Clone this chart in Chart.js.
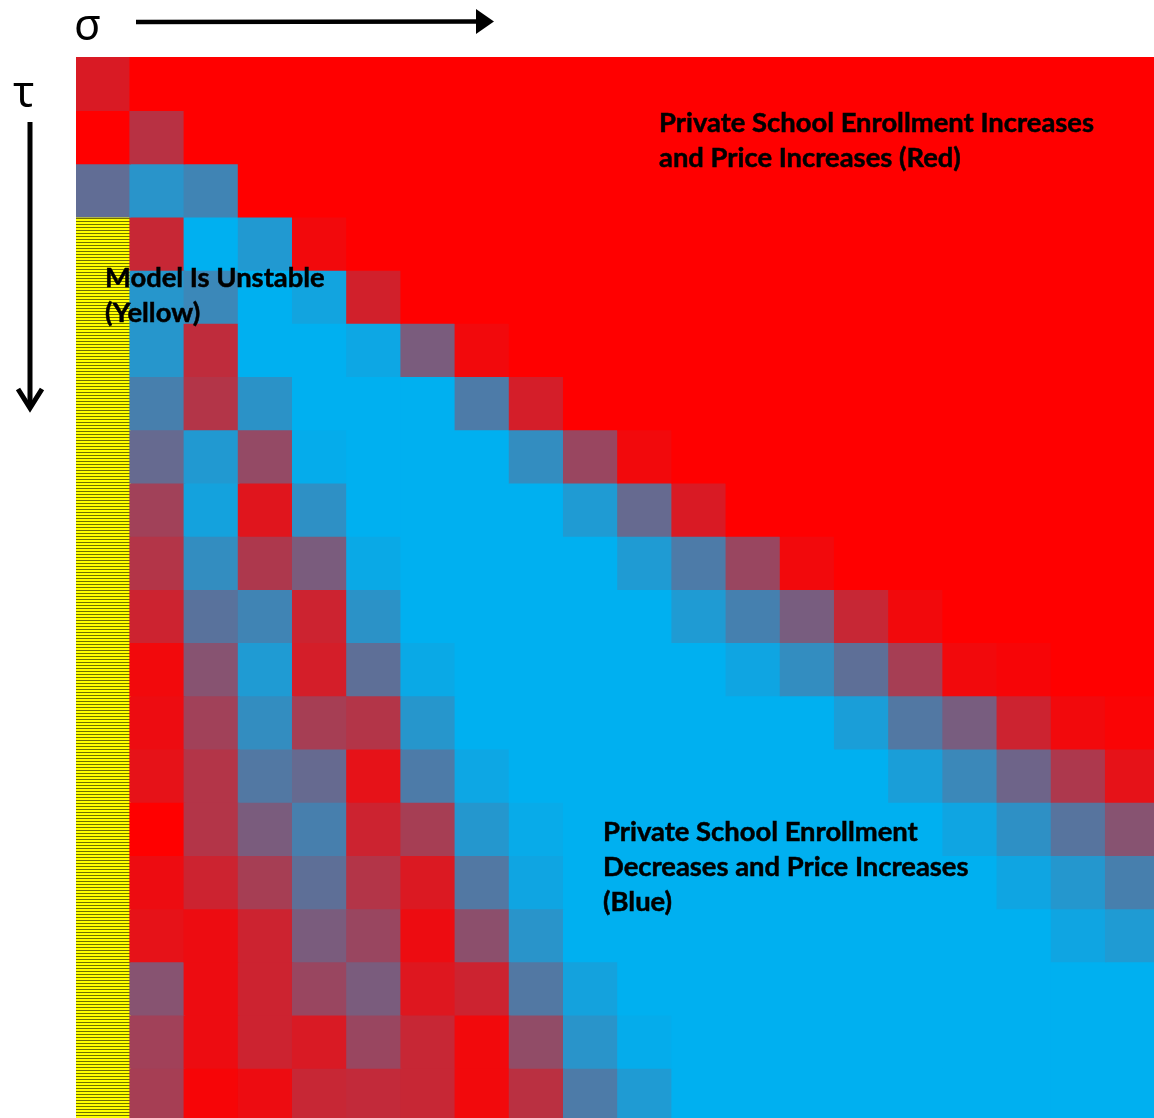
<!DOCTYPE html>
<html>
<head>
<meta charset="utf-8">
<script src="https://cdn.jsdelivr.net/npm/chart.js@4.4.1/dist/chart.umd.min.js"></script>
<style>
html,body{margin:0;padding:0;background:#fff;}
#wrap{position:relative;width:1154px;height:1118px;overflow:hidden;}
#wrap canvas{position:absolute;left:0;top:0;}
.note{position:absolute;font-family:Lato,"Open Sans",sans-serif;font-weight:700;font-size:27.4px;line-height:35px;color:#000;white-space:nowrap;-webkit-text-stroke:0.5px #000;}
.greek{position:absolute;font-family:"Noto Sans","DejaVu Sans",sans-serif;font-size:44px;line-height:44px;color:#000;}
</style>
</head>
<body>
<div id="wrap">
<canvas id="chart" width="1154" height="1118"></canvas>
<div class="greek" style="left:74px;top:1px;">σ</div>
<div class="greek" style="left:13px;top:68px;">τ</div>
<div class="note" style="left:659px;top:104px;">Private School Enrollment Increases<br>and Price Increases (Red)</div>
<div class="note" style="left:105px;top:259px;">Model Is Unstable<br>(Yellow)</div>
<div class="note" style="left:603px;top:813px;">Private School Enrollment<br>Decreases and Price Increases<br>(Blue)</div>
</div>
<script>
// ---- data: share of "blue" outcome per cell (0 = red, 1 = blue), U = model unstable (yellow)
const U = null;
const sigmaSteps = [0,1,2,3,4,5,6,7,8,9,10,11,12,13,14,15,16,17,18,19];
const tauSteps   = [0,1,2,3,4,5,6,7,8,9,10,11,12,13,14,15,16,17,18,19];

const row00 = [0.15,0,0,0,0,0,0,0,0,0,0,0,0,0,0,0,0,0,0,0];
const row01 = [0,0.28,0,0,0,0,0,0,0,0,0,0,0,0,0,0,0,0,0,0];
const row02 = [0.62,0.84,0.75,0,0,0,0,0,0,0,0,0,0,0,0,0,0,0,0,0];
const row03 = [U,0.22,1,0.87,0.05,0,0,0,0,0,0,0,0,0,0,0,0,0,0,0];
const row04 = [U,0.85,0.77,1,0.93,0.18,0,0,0,0,0,0,0,0,0,0,0,0,0,0];
const row05 = [U,0.85,0.25,1,1,0.95,0.52,0.05,0,0,0,0,0,0,0,0,0,0,0,0];
const row06 = [U,0.72,0.3,0.83,1,1,1,0.7,0.17,0,0,0,0,0,0,0,0,0,0,0];
const row07 = [U,0.6,0.87,0.42,0.98,1,1,1,0.8,0.4,0.05,0,0,0,0,0,0,0,0,0];
const row08 = [U,0.37,0.92,0.12,0.82,1,1,1,1,0.88,0.6,0.15,0,0,0,0,0,0,0,0];
const row09 = [U,0.3,0.8,0.32,0.52,0.96,1,1,1,1,0.88,0.7,0.4,0.05,0,0,0,0,0,0];
const row10 = [U,0.2,0.65,0.75,0.2,0.83,1,1,1,1,1,0.88,0.73,0.53,0.22,0.05,0,0,0,0];
const row11 = [U,0.05,0.47,0.88,0.17,0.63,0.96,1,1,1,1,1,0.94,0.8,0.63,0.35,0.05,0.03,0,0];
const row12 = [U,0.07,0.37,0.8,0.35,0.3,0.85,1,1,1,1,1,1,1,0.9,0.68,0.53,0.2,0.05,0.02];
const row13 = [U,0.1,0.3,0.68,0.6,0.1,0.7,0.95,1,1,1,1,1,1,1,0.9,0.77,0.57,0.32,0.1];
const row14 = [U,0,0.3,0.52,0.72,0.2,0.35,0.86,0.97,1,1,1,1,1,1,1,0.94,0.82,0.66,0.47];
const row15 = [U,0.07,0.2,0.35,0.63,0.3,0.14,0.68,0.94,1,1,1,1,1,1,1,1,0.94,0.86,0.72];
const row16 = [U,0.1,0.07,0.2,0.52,0.4,0.07,0.45,0.84,1,1,1,1,1,1,1,1,1,0.94,0.88];
const row17 = [U,0.47,0.07,0.2,0.4,0.52,0.13,0.2,0.68,0.92,1,1,1,1,1,1,1,1,1,1];
const row18 = [U,0.37,0.07,0.2,0.15,0.4,0.22,0.05,0.43,0.84,0.98,1,1,1,1,1,1,1,1,1];
const row19 = [U,0.35,0.03,0.07,0.22,0.24,0.22,0.05,0.27,0.7,0.88,1,1,1,1,1,1,1,1,1];

const grid = [row00,row01,row02,row03,row04,row05,row06,row07,row08,row09,
              row10,row11,row12,row13,row14,row15,row16,row17,row18,row19];

// ---- styles
const RED = [255, 0, 0];
const BLUE = [0, 176, 240];
function blend(t) {
  const c = RED.map((r, i) => Math.round(r + (BLUE[i] - r) * t));
  return `rgb(${c[0]},${c[1]},${c[2]})`;
}
const canvas = document.getElementById('chart');
const ctx = canvas.getContext('2d');
const pc = document.createElement('canvas');
pc.width = 4; pc.height = 3;
const pctx = pc.getContext('2d');
pctx.fillStyle = '#ffff00'; pctx.fillRect(0, 0, 4, 3);
pctx.fillStyle = '#707000'; pctx.fillRect(0, 2, 4, 1);
const yellowStripes = ctx.createPattern(pc, 'repeat');

const datasets = grid.map((row, r) => ({
  label: 'τ ' + tauSteps[r],
  data: sigmaSteps.map((s, c) => ({ x: s, y: [tauSteps[r], tauSteps[r] + 1] })),
  backgroundColor: row.map(v => v === null ? yellowStripes : blend(v)),
  borderWidth: 0,
  inflateAmount: 0.8,
  barPercentage: 1,
  categoryPercentage: 1,
  stack: 'grid'
}));

const axisArrows = {
  id: 'axisArrows',
  afterDraw(chart) {
    const g = chart.ctx;
    g.save();
    g.fillStyle = '#000';
    g.strokeStyle = '#000';
    // sigma arrow (horizontal)
    g.lineWidth = 4.5;
    g.beginPath(); g.moveTo(136, 22); g.lineTo(480, 21.5); g.stroke();
    g.beginPath(); g.moveTo(476, 9); g.lineTo(494, 21.5); g.lineTo(476, 34); g.closePath(); g.fill();
    // tau arrow (vertical)
    g.lineWidth = 5;
    g.beginPath(); g.moveTo(30, 122); g.lineTo(30, 407); g.stroke();
    g.lineJoin = 'miter';
    g.beginPath(); g.moveTo(18, 389); g.lineTo(30, 408); g.lineTo(42, 389); g.stroke();
    g.restore();
  }
};

new Chart(canvas, {
  type: 'bar',
  data: { datasets },
  options: {
    responsive: false,
    animation: false,
    events: [],
    layout: { padding: { left: 76, top: 57, right: 0, bottom: 0 } },
    plugins: { legend: { display: false }, tooltip: { enabled: false } },
    scales: {
      x: { type: 'linear', display: false, stacked: true, offset: false,
           min: -0.5, max: 19.39, ticks: { stepSize: 1, includeBounds: false } },
      y: { type: 'linear', display: false, stacked: false, reverse: true,
           min: 0, max: 19.94 }
    }
  },
  plugins: [axisArrows]
});
</script>
</body>
</html>
